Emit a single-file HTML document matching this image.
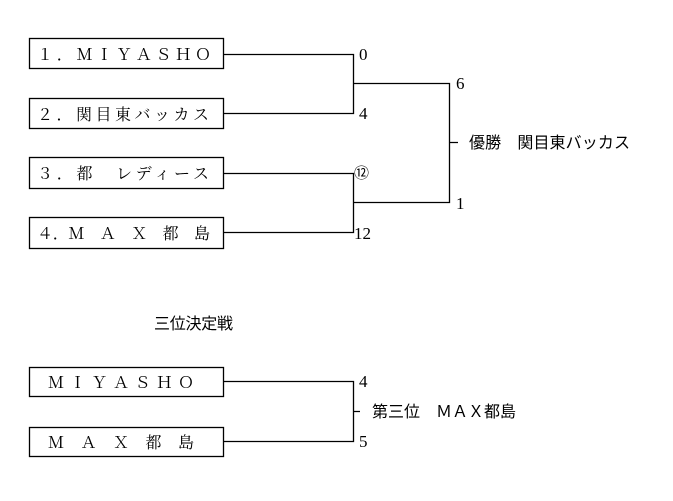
<!DOCTYPE html>
<html><head><meta charset="utf-8"><style>
html,body{margin:0;padding:0;background:#fff;}
svg{display:block;}
text{font-family:"Liberation Sans","Noto Sans CJK JP",sans-serif;font-size:16px;fill:#000;}
text.s{font-family:"Liberation Serif","Noto Serif CJK SC",serif;}
text.n{font-size:17px;}
</style></head><body>
<svg width="673" height="501" viewBox="0 0 673 501" xmlns="http://www.w3.org/2000/svg">
<g fill="none" stroke="#000" stroke-width="1.3">
<rect x="29.5" y="38.5" width="194" height="30"/>
<rect x="29.5" y="98.5" width="194" height="30"/>
<rect x="29.5" y="157.5" width="194" height="31"/>
<rect x="29.5" y="217.5" width="194" height="31"/>
<rect x="29.5" y="367.5" width="194" height="29"/>
<rect x="29.5" y="427.5" width="194" height="29"/>
<path d="M223.5 54.5H353.5V113.5H223.5M353.5 83.5H449.5V202.5H353.5M223.5 173.5H353.5V232.5H223.5M449.5 142.5H458"/>
<path d="M223.5 381.5H353.5V441.5H223.5M353.5 411.5H360"/>
</g>
<text class="s" x="37" y="60" textLength="174" lengthAdjust="spacing">１．ＭＩＹＡＳＨＯ</text>
<text class="s" x="37" y="120" textLength="172" lengthAdjust="spacing">２．関目東バッカス</text>
<text class="s" x="37" y="179" textLength="172" lengthAdjust="spacing">３．都　レディース</text>
<text class="s" x="37" y="239" textLength="173" lengthAdjust="spacing">４．Ｍ　Ａ　Ｘ　都　島</text>
<text class="s" x="48" y="388" textLength="146" lengthAdjust="spacing">ＭＩＹＡＳＨＯ</text>
<text class="s" x="48" y="448" textLength="146" lengthAdjust="spacing">Ｍ　Ａ　Ｘ　都　島</text>
<text class="s n" x="359" y="60">0</text>
<text class="s n" x="359" y="119">4</text>
<text x="354" y="178" style="font-size:15px">⑫</text>
<text class="s n" x="354" y="239">12</text>
<text class="s n" x="456" y="89">6</text>
<text class="s n" x="456" y="209">1</text>
<text x="469" y="148" textLength="161" lengthAdjust="spacing">優勝　関目東バッカス</text>
<text x="154" y="329" textLength="79" lengthAdjust="spacing">三位決定戦</text>
<text class="s n" x="359" y="387">4</text>
<text class="s n" x="359" y="447">5</text>
<text x="372" y="417" textLength="144" lengthAdjust="spacing">第三位　ＭＡＸ都島</text>
</svg>
</body></html>
